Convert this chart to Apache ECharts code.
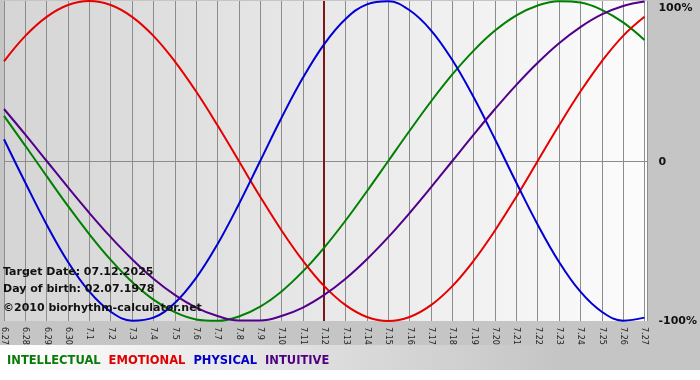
<!DOCTYPE html>
<html><head><meta charset="utf-8">
<script src="https://cdn.jsdelivr.net/npm/echarts@6/dist/echarts.min.js"></script>
<style>html,body{margin:0;padding:0;background:#fff}#c{width:700px;height:380px}</style>
</head><body><div id="c"></div>
<script>
const dates = ['6.27','6.28','6.29','6.30','7.1','7.2','7.3','7.4','7.5','7.6','7.7','7.8','7.9','7.10','7.11','7.12','7.13','7.14','7.15','7.16','7.17','7.18','7.19','7.20','7.21','7.22','7.23','7.24','7.25','7.26','7.27'];
const intellectual = [0.282,0.095,-0.095,-0.282,-0.458,-0.618,-0.756,-0.866,-0.945,-0.990,-0.999,-0.972,-0.910,-0.815,-0.690,-0.541,-0.372,-0.189,0,0.189,0.372,0.541,0.690,0.815,0.910,0.972,0.999,0.990,0.945,0.866,0.756];
const emotional = [0.623,0.782,0.901,0.975,1,0.975,0.901,0.782,0.623,0.434,0.223,0,-0.223,-0.434,-0.623,-0.782,-0.901,-0.975,-1,-0.975,-0.901,-0.782,-0.623,-0.434,-0.223,0,0.223,0.434,0.623,0.782,0.901];
const physical = [0.136,-0.136,-0.398,-0.631,-0.817,-0.942,-0.998,-0.979,-0.888,-0.731,-0.520,-0.270,0,0.270,0.520,0.731,0.888,0.979,0.998,0.942,0.817,0.631,0.398,0.136,-0.136,-0.398,-0.631,-0.817,-0.942,-0.998,-0.979];
const intuitive = [0.325,0.165,0,-0.165,-0.325,-0.476,-0.614,-0.736,-0.837,-0.916,-0.969,-0.997,-0.997,-0.969,-0.916,-0.837,-0.736,-0.614,-0.476,-0.325,-0.165,0,0.165,0.325,0.476,0.614,0.736,0.837,0.916,0.969,0.997];
const seriesNames = ['INTELLECTUAL','EMOTIONAL','PHYSICAL','INTUITIVE'];
const yTickLabels = {'1':'100%','0':'0','-1':'-100%'};
const targetDate = '7.12';
const infoLines = ['Target Date: 07.12.2025','Day of birth: 02.07.1978','\u00A92010 biorhythm-calculator.net'];

const colors = ['#008000','#e60000','#0000d4','#52008c'];
const legendColors = ['#0a7a0a','#e00000','#0000c8','#500080'];
const valuesList = [intellectual, emotional, physical, intuitive];
const toPairs = arr => arr.map((v, i) => [i, v]);
const FONT = '"DejaVu Sans", Verdana, sans-serif';

const chart = echarts.init(document.getElementById('c'), null, {renderer: 'canvas'});
const series = seriesNames.map((name, k) => ({
  name, type: 'line', smooth: 0.4, showSymbol: false, symbol: 'none',
  data: toPairs(valuesList[k]),
  lineStyle: {color: colors[k], width: 2},
  itemStyle: {color: colors[k]},
  z: 3
}));
series[0].markLine = {
  silent: true, symbol: 'none', label: {show: false},
  lineStyle: {color: '#7a1818', width: 2, type: 'solid'},
  data: [{xAxis: dates.indexOf(targetDate)}],
  z: 2
};

chart.setOption({
  backgroundColor: '#ffffff',
  animation: false,
  grid: {
    left: 0, top: 1, right: 49, bottom: 59, show: true, borderWidth: 0,
    backgroundColor: new echarts.graphic.LinearGradient(0, 0, 1, 0, [
      {offset: 0, color: '#d5d5d5'}, {offset: 1, color: '#fcfcfc'}
    ])
  },
  xAxis: {
    type: 'value', min: 0, max: 30.14, interval: 1,
    axisLine: {show: false}, axisTick: {show: false},
    splitLine: {show: true, lineStyle: {color: '#8c8c8c', width: 1}},
    axisLabel: {
      rotate: -90, margin: 6, fontSize: 8, color: '#222', fontFamily: FONT,
      showMaxLabel: false, hideOverlap: false,
      formatter: v => Number.isInteger(v) ? (dates[v] || '') : ''
    }
  },
  yAxis: {
    type: 'value', position: 'right', min: -1, max: 1, interval: 1,
    axisLine: {show: false}, axisTick: {show: false},
    splitLine: {show: true, lineStyle: {color: ['rgba(0,0,0,0)', '#8c8c8c', 'rgba(0,0,0,0)'], width: 1}},
    axisLabel: {
      margin: 11, fontSize: 11, fontWeight: 'bold', color: '#111', fontFamily: FONT,
      formatter: v => v === 1 ? '{t|' + yTickLabels['1'] + '}' : (v === 0 ? '{z|0}' : (yTickLabels[String(v)] || '')),
      rich: {
        t: {padding: [14, 0, 0, 0], fontSize: 11, fontWeight: 'bold', color: '#111', fontFamily: FONT},
        z: {padding: [3, 0, 0, 0], fontSize: 11, fontWeight: 'bold', color: '#111', fontFamily: FONT}
      }
    }
  },
  legend: {
    left: 2, top: 355, padding: 0, icon: 'none', itemWidth: 0, itemHeight: 0, itemGap: 3,
    selectedMode: false,
    textStyle: {fontSize: 11.5, fontWeight: 'bold', fontFamily: FONT},
    data: seriesNames.map((n, k) => ({name: n, textStyle: {color: legendColors[k]}}))
  },
  graphic: [
    {type: 'rect', z: -100, silent: true, shape: {x: 0, y: 0, width: 700, height: 370}, style: {fill: '#c5c5c5'}},
    {type: 'rect', z: -99, silent: true, shape: {x: 0, y: 345, width: 700, height: 25},
      style: {fill: new echarts.graphic.LinearGradient(0, 0, 1, 0, [
        {offset: 0, color: '#ffffff'}, {offset: 0.8, color: '#c5c5c5'}, {offset: 1, color: '#c5c5c5'}
      ])}},
    ...infoLines.map((t, k) => ({
      type: 'text', z: 100, silent: true, left: 3, top: [267, 284, 303][k],
      style: {text: t, font: 'bold 11px ' + FONT, fill: '#111'}
    }))
  ],
  series
});
</script>
</body></html>
